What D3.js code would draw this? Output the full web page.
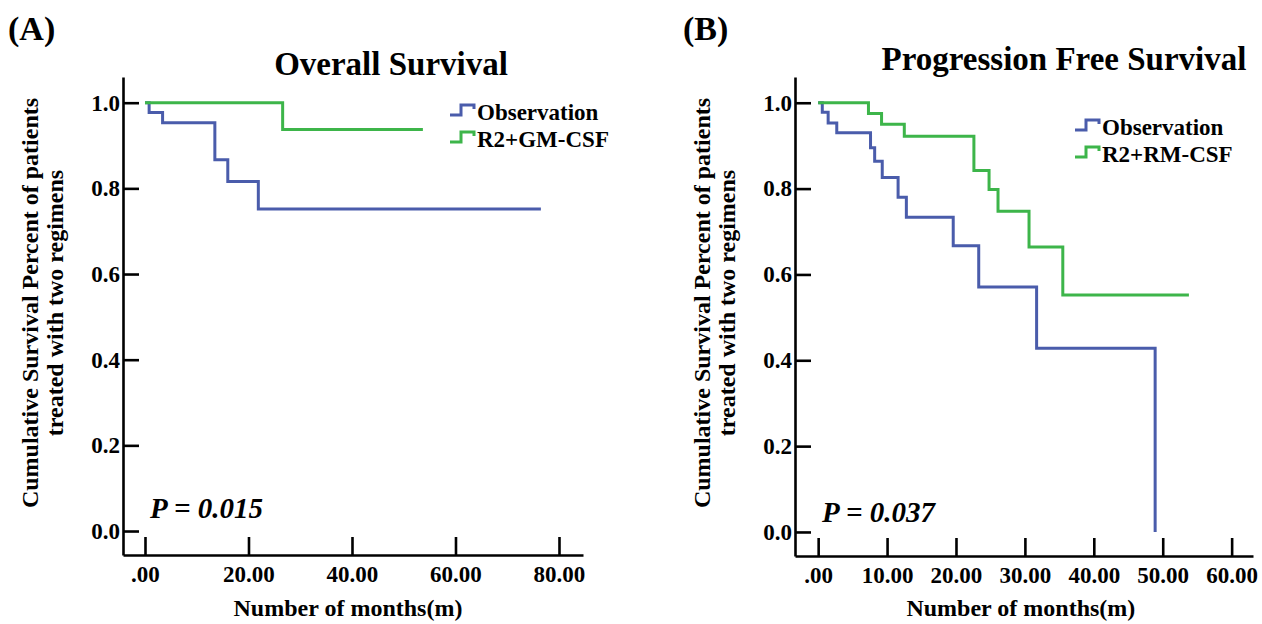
<!DOCTYPE html>
<html>
<head>
<meta charset="utf-8">
<script src="https://cdn.jsdelivr.net/npm/d3@7"></script>
<style>
  body { margin: 0; background: #fff; }
  svg text { font-family: "Liberation Serif", "DejaVu Serif", "Noto Serif", "Times New Roman", Times, serif; font-weight: bold; fill: #000; }
</style>
</head>
<body>
<svg id="svg" width="1262" height="624"></svg>
<script>
// (A) overall survival: months where the curve steps down, and the level after it
var osObsTime = [0, 0.8, 3.4, 13.5, 16.0, 21.9];
var osObsSurv = [1.0, 0.977, 0.953, 0.867, 0.816, 0.752];
var osObsEnd = 76.5;
var osTrtTime = [0, 26.6];
var osTrtSurv = [1.0, 0.9375];
var osTrtEnd = 53.7;

// (B) progression free survival
var pfsObsTime = [0, 0.6, 1.45, 2.7, 7.6, 8.2, 9.3, 11.6, 12.8, 19.6, 23.3, 31.7, 48.9];
var pfsObsSurv = [1.0, 0.978, 0.953, 0.93, 0.895, 0.864, 0.826, 0.78, 0.733, 0.667, 0.571, 0.428, 0.0];
var pfsObsEnd = 48.9;
var pfsTrtTime = [0, 7.3, 9.2, 12.5, 22.6, 24.8, 26.1, 30.6, 35.5];
var pfsTrtSurv = [1.0, 0.975, 0.95, 0.922, 0.842, 0.798, 0.747, 0.664, 0.552];
var pfsTrtEnd = 53.8;

var xTicksA = [0, 20, 40, 60, 80];
var xLabelsA = [".00", "20.00", "40.00", "60.00", "80.00"];
var xTicksB = [0, 10, 20, 30, 40, 50, 60];
var xLabelsB = [".00", "10.00", "20.00", "30.00", "40.00", "50.00", "60.00"];
var yTicks = [0, 0.2, 0.4, 0.6, 0.8, 1.0];

var legendA = ["Observation", "R2+GM-CSF"];
var legendB = ["Observation", "R2+RM-CSF"];

var blue = "#4a5cab", green = "#3db54a";

var svg = d3.select("#svg");

function steps(time, surv, end) {
  var pts = time.map(function (t, i) { return [t, surv[i]]; });
  pts.push([end, surv[surv.length - 1]]);
  return pts;
}

function panel(o) {
  var g = svg.append("g");

  var x = d3.scaleLinear().domain(o.xDomain).range([o.left, o.right]);
  var y = d3.scaleLinear().domain([-0.056, 1.06]).range([o.bottom, 77]);

  // axes, ticks pointing inward
  var xAxis = g.append("g")
    .attr("transform", "translate(0," + o.bottom + ")")
    .call(d3.axisBottom(x).tickValues(o.xTicks)
      .tickFormat(function (d, i) { return o.xLabels[i]; })
      .tickSizeInner(-18).tickSizeOuter(0).tickPadding(11));

  var yAxis = g.append("g")
    .attr("transform", "translate(" + o.left + ",0)")
    .call(d3.axisLeft(y).tickValues(yTicks)
      .tickFormat(d3.format(".1f"))
      .tickSizeInner(-16).tickSizeOuter(0).tickPadding(3));

  [xAxis, yAxis].forEach(function (a) {
    a.attr("font-family", null).attr("font-size", null);
    a.selectAll("path, line").attr("stroke", "#000").attr("stroke-width", 2.6);
    a.selectAll("text").style("font-size", "23px");
  });

  var line = d3.line()
    .x(function (d) { return x(d[0]); })
    .y(function (d) { return y(d[1]); })
    .curve(d3.curveStepAfter);

  o.curves.forEach(function (c) {
    g.append("path")
      .datum(c.pts)
      .attr("d", line)
      .attr("fill", "none")
      .attr("stroke", c.color)
      .attr("stroke-width", 3);
  });

  // legend
  o.legend.forEach(function (name, i) {
    var b = o.legY + i * 27;
    var sx = o.legX - 27;
    g.append("path")
      .attr("d", "M" + sx + "," + (b - 5) + "H" + (sx + 11) + "V" + (b - 15) + "H" + (sx + 24) + "V" + (b - 11))
      .attr("fill", "none")
      .attr("stroke", o.curves[i].color)
      .attr("stroke-width", 3);
    g.append("text")
      .attr("x", o.legX)
      .attr("y", b)
      .style("font-size", "23px")
      .text(name);
  });

  // titles
  g.append("text")
    .attr("x", o.titleX).attr("y", o.titleY)
    .attr("text-anchor", "middle")
    .style("font-size", "33px")
    .text(o.title);

  g.append("text")
    .attr("x", o.tagX).attr("y", 40)
    .style("font-size", "34px")
    .text(o.tag);

  g.append("text")
    .attr("x", (x(o.xTicks[0]) + x(o.xTicks[o.xTicks.length - 1])) / 2 - 4)
    .attr("y", 616)
    .attr("text-anchor", "middle")
    .style("font-size", "24px")
    .text("Number of months(m)");

  var yt = g.append("text")
    .attr("transform", "translate(" + (o.left - 85) + ",303) rotate(-90)")
    .attr("text-anchor", "middle")
    .style("font-size", "24px");
  yt.append("tspan").attr("x", 0).attr("y", 0).text("Cumulative Survival Percent of patients");
  yt.append("tspan").attr("x", 0).attr("y", 25).text("treated with two regimens");

  g.append("text")
    .attr("x", o.left + 27).attr("y", o.pY)
    .style("font-size", "29px")
    .style("font-style", "italic")
    .text(o.pText);
}

panel({
  left: 123, right: 583, bottom: 555,
  xDomain: [-4.25, 84.64],
  xTicks: xTicksA, xLabels: xLabelsA,
  curves: [
    { pts: steps(osObsTime, osObsSurv, osObsEnd), color: blue },
    { pts: steps(osTrtTime, osTrtSurv, osTrtEnd), color: green }
  ],
  legend: legendA, legX: 477, legY: 120,
  title: "Overall Survival", titleX: 391, titleY: 75,
  tag: "(A)", tagX: 8,
  pText: "P = 0.015", pY: 518
});

panel({
  left: 795, right: 1253, bottom: 556,
  xDomain: [-3.36, 63.1],
  xTicks: xTicksB, xLabels: xLabelsB,
  curves: [
    { pts: steps(pfsObsTime, pfsObsSurv, pfsObsEnd), color: blue },
    { pts: steps(pfsTrtTime, pfsTrtSurv, pfsTrtEnd), color: green }
  ],
  legend: legendB, legX: 1102, legY: 135,
  title: "Progression Free Survival", titleX: 1064, titleY: 70,
  tag: "(B)", tagX: 683,
  pText: "P = 0.037", pY: 522
});
</script>
</body>
</html>
